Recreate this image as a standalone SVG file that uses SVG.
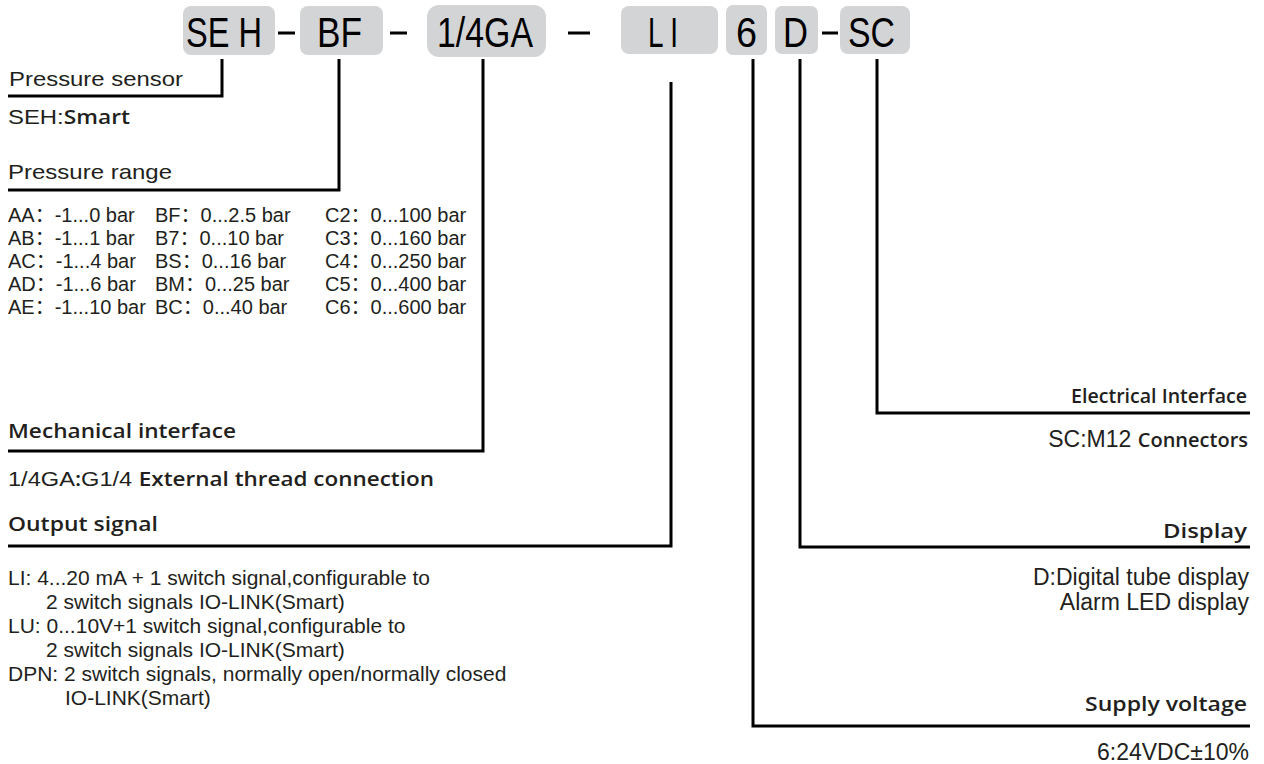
<svg xmlns="http://www.w3.org/2000/svg" width="1264" height="764" viewBox="0 0 1264 764">
<defs>
<style>
.box{fill:#d3d4d6}
.code{font-family:"Liberation Sans",Arial,sans-serif;font-size:43px;fill:#000}
.a{font-family:"Liberation Sans",Arial,"Noto Sans CJK SC",sans-serif;font-size:21px;fill:#231f20}
.ar{font-family:"Liberation Sans",Arial,sans-serif;font-size:23px;fill:#231f20;text-anchor:end}
.m{font-family:"Open Sans","Noto Sans",sans-serif;font-size:20px;font-weight:600;fill:#231f20}
.mr{font-family:"Open Sans","Noto Sans",sans-serif;font-size:19px;font-weight:600;fill:#231f20;text-anchor:end}
.t{font-family:"Liberation Sans",Arial,"Noto Sans CJK SC",sans-serif;font-size:20px;fill:#231f20}
.ln{stroke:#000;stroke-width:3;fill:none}
</style>
</defs>
<rect width="1264" height="764" fill="#fff"/>

<g id="code-SEH"><rect class="box" x="183" y="6" width="92" height="49" rx="8"/><text class="code" x="186" y="47" textLength="76" lengthAdjust="spacingAndGlyphs">SE H</text></g>
<g id="code-BF"><rect class="box" x="300" y="6" width="83" height="49" rx="8"/><text class="code" x="317" y="47" textLength="45" lengthAdjust="spacingAndGlyphs">BF</text></g>
<g id="code-14GA"><rect class="box" x="427" y="5" width="119" height="52" rx="12"/><text class="code" x="437" y="47" textLength="96" lengthAdjust="spacingAndGlyphs">1/4GA</text></g>
<g id="code-LI"><rect class="box" x="621" y="6" width="97" height="48" rx="8"/><text class="code" x="648" y="47" textLength="30" lengthAdjust="spacingAndGlyphs">L I</text></g>
<g id="code-6"><rect class="box" x="726" y="5" width="41" height="50" rx="7"/><text class="code" x="736" y="47" textLength="21" lengthAdjust="spacingAndGlyphs">6</text></g>
<g id="code-D"><rect class="box" x="775" y="6" width="43" height="48" rx="7"/><text class="code" x="783" y="47" textLength="25" lengthAdjust="spacingAndGlyphs">D</text></g>
<g id="code-SC"><rect class="box" x="840" y="6" width="70" height="48" rx="8"/><text class="code" x="848" y="47" textLength="47" lengthAdjust="spacingAndGlyphs">SC</text></g>

<g id="dashes" class="ln">
<path d="M278,33H295M390,33H407M568,33H590M822,33H838"/>
</g>

<g id="connectors" class="ln">
<path d="M222,59V96H8"/>
<path d="M339,59V190H8"/>
<path d="M483,59V451H8"/>
<path d="M671,82V546H8"/>
<path d="M753,59V726H1250"/>
<path d="M800,59V547H1250"/>
<path d="M877,59V413H1250"/>
</g>

<g id="pressure-sensor">
<text class="a" x="9" y="86" font-size="22" textLength="174" lengthAdjust="spacingAndGlyphs">Pressure sensor</text>
<text class="a" x="8" y="124" textLength="122" lengthAdjust="spacingAndGlyphs">SEH:<tspan class="m">Smart</tspan></text>
</g>

<g id="pressure-range">
<text class="a" x="8" y="179" font-size="22" textLength="164" lengthAdjust="spacingAndGlyphs">Pressure range</text>
<text class="t" x="8" y="222">AA：-1...0 bar</text>
<text class="t" x="8" y="245">AB：-1...1 bar</text>
<text class="t" x="8" y="268">AC：-1...4 bar</text>
<text class="t" x="8" y="291">AD：-1...6 bar</text>
<text class="t" x="8" y="314">AE：-1...10 bar</text>
<text class="t" x="155" y="222">BF：0...2.5 bar</text>
<text class="t" x="155" y="245">B7：0...10 bar</text>
<text class="t" x="155" y="268">BS：0...16 bar</text>
<text class="t" x="155" y="291">BM：0...25 bar</text>
<text class="t" x="155" y="314">BC：0...40 bar</text>
<text class="t" x="325" y="222">C2：0...100 bar</text>
<text class="t" x="325" y="245">C3：0...160 bar</text>
<text class="t" x="325" y="268">C4：0...250 bar</text>
<text class="t" x="325" y="291">C5：0...400 bar</text>
<text class="t" x="325" y="314">C6：0...600 bar</text>
</g>

<g id="mechanical-interface">
<text class="m" x="8" y="438" textLength="228" lengthAdjust="spacingAndGlyphs">Mechanical interface</text>
<text class="a" x="8" y="486" textLength="426" lengthAdjust="spacingAndGlyphs">1/4GA<tspan class="m">:</tspan>G1/4 <tspan class="m">External thread connection</tspan></text>
</g>

<g id="output-signal">
<text class="m" x="8" y="531" textLength="150" lengthAdjust="spacingAndGlyphs">Output signal</text>
<text class="a" x="8" y="585">LI: 4...20 mA + 1 switch signal,configurable to</text>
<text class="a" x="46" y="609">2 switch signals IO-LINK(Smart)</text>
<text class="a" x="8" y="633">LU: 0...10V+1 switch signal,configurable to</text>
<text class="a" x="46" y="657">2 switch signals IO-LINK(Smart)</text>
<text class="a" x="8" y="681">DPN: 2 switch signals, normally open/normally closed</text>
<text class="a" x="65" y="705">IO-LINK(Smart)</text>
</g>

<g id="electrical-interface">
<text class="mr" x="1247" y="403" font-size="20" textLength="176" lengthAdjust="spacingAndGlyphs">Electrical Interface</text>
<text class="ar" x="1248" y="447" font-size="20">SC:M12 <tspan class="m" font-size="18">Connectors</tspan></text>
</g>

<g id="display">
<text class="mr" x="1247" y="538" textLength="84" lengthAdjust="spacingAndGlyphs">Display</text>
<text class="ar" x="1249" y="585">D:Digital tube display</text>
<text class="ar" x="1249" y="610">Alarm LED display</text>
</g>

<g id="supply-voltage">
<text class="mr" x="1247" y="711" textLength="162" lengthAdjust="spacingAndGlyphs">Supply voltage</text>
<text class="ar" x="1249" y="760" font-size="22">6:24VDC±10%</text>
</g>
</svg>
